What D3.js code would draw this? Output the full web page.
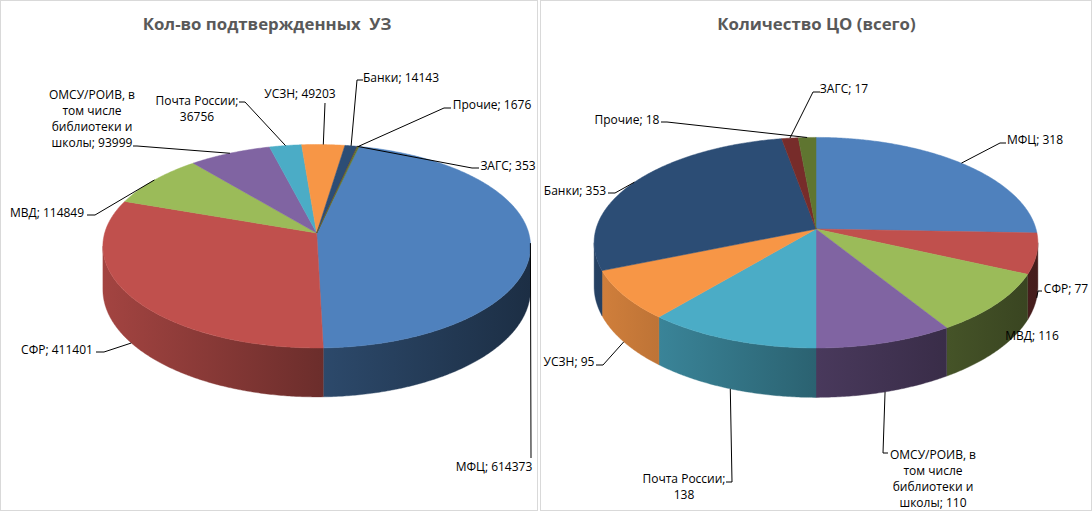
<!DOCTYPE html>
<html><head><meta charset="utf-8">
<script src="https://cdn.jsdelivr.net/npm/d3@7"></script>
<style>body{margin:0;background:#fff}svg{display:block}</style>
</head><body>
<svg id="c" width="1092" height="512"></svg>
<script>
// ---------- DATA ----------
const categories = ["МФЦ","СФР","МВД","ОМСУ/РОИВ, в том числе библиотеки и школы","Почта России","УСЗН","Банки","ЗАГС","Прочие"];
const valuesUZ = [614373,411401,114849,93999,36756,49203,14143,353,1676];
const valuesCO = [318,77,116,110,138,95,353,17,18];
const titles = ["Кол-во подтвержденных  УЗ","Количество ЦО (всего)"];
const palette = ["#4F81BD","#C0504D","#9BBB59","#8064A2","#4BACC6","#F79646","#2C4D75","#772C2A","#5F7530"];

// ---------- LAYOUT ----------
const panels = [
  {id:"a", x:0.5, w:537, title:titles[0], tx:267, values:valuesUZ, start:13,
   geo:{cx:316.7, cy:233, R:212, Ry:100, k:0.13, h:42.6},
   labels:[
    {cx:494, y:471, p:[[531,458],[531,458]]},
    {cx:57,  y:354, p:[[96,352],[104,352]]},
    {cx:47,  y:217, p:[[87,215],[95,215]]},
    {cx:92,  y:99,  words:[2,2,2,2], p:[[133,146],[137,146]]},
    {cx:197, y:105, words:[2,1], p:[[239,102],[245,102]]},
    {cx:300, y:98,  p:[[325,103],[325,103]]},
    {cx:401, y:82,  p:[[363,80],[357,80]]},
    {cx:508, y:170, p:[[479,168],[472,168]]},
    {cx:492, y:109, p:[[451,108],[444,108]]}
   ]},
  {id:"b", x:540.5, w:551, title:titles[1], tx:816.5, values:valuesCO, start:0,
   geo:{cx:816, cy:229, R:220, Ry:103.5, k:0.13, h:43},
   labels:[
    {cx:1035, y:144, p:[[1006,143],[1000,143]]},
    {cx:1066, y:293, p:[[1042,291],[1038,291]]},
    {cx:1032, y:340, p:null},
    {cx:933,  y:459, words:[2,2,2,2], p:[[888,453],[883,453]]},
    {cx:684,  y:483, words:[2,1], p:[[726,482],[732,482]]},
    {cx:569,  y:366, p:[[596,365],[603,365]]},
    {cx:575,  y:195, p:[[608,193],[615,193]]},
    {cx:844,  y:93,  p:[[820,92],[813,92]]},
    {cx:627,  y:124, p:[[661,122],[667,122]]}
   ]}
];

const svg = d3.select("#c");
const defs = svg.append("defs");
const shade = d3.scaleLinear().domain([-1, 0, 1]).range([0.85, 0.57, 0.36]);
const deg = Math.PI/180;

function proj(g){
  return (a, r, z) => {
    const x = r*Math.sin(a), yd = -r*Math.cos(a);
    const s = 1/(1 - g.k*yd);
    return [g.cx + g.R*x*s, g.cy + g.Ry*yd*s + g.h*z*s];
  };
}
function darker(c, f){ const r = d3.rgb(c); return d3.rgb(r.r*f, r.g*f, r.b*f).formatHex(); }
function sample(a0, a1, step){
  const n = Math.max(2, Math.ceil((a1 - a0)/step)), out = [];
  for (let j = 0; j <= n; j++) out.push(a0 + (a1 - a0)*j/n);
  return out;
}

panels.forEach(P => {
  svg.append("rect").attr("x", P.x).attr("y", 0.5).attr("width", P.w).attr("height", 510)
     .attr("fill", "#fff").attr("stroke", "#d9d9d9");
  svg.append("text").attr("x", P.tx).attr("y", 30).attr("text-anchor", "middle")
     .attr("font-family", "'Open Sans',sans-serif")
     .attr("font-weight", "bold").attr("font-size", 16.8).attr("fill", "#595959")
     .style("white-space", "pre").text(P.title);

  const g = P.geo, pj = proj(g);
  const pie = d3.pie().sort(null).value(d => d)
                .startAngle(P.start*deg).endAngle(P.start*deg + 2*Math.PI);
  const arcs = pie(P.values);
  const step = 0.5*deg;

  // gradients for sides
  arcs.forEach((a, i) => {
    const lg = defs.append("linearGradient").attr("id", `g${P.id}${i}`)
      .attr("gradientUnits", "userSpaceOnUse")
      .attr("x1", g.cx - g.R*1.01).attr("x2", g.cx + g.R*1.01).attr("y1", 0).attr("y2", 0);
    [0, 0.5, 1].forEach(o => lg.append("stop").attr("offset", o)
      .attr("stop-color", darker(palette[i], shade(o*2 - 1))));
  });

  // visible side range
  const tMin = Math.acos(-g.k), tMax = 2*Math.PI - tMin;
  const sides = [];
  arcs.forEach((a, i) => {
    [0, 2*Math.PI].forEach(off => {
      const lo = Math.max(a.startAngle, tMin + off), hi = Math.min(a.endAngle, tMax + off);
      if (hi > lo) sides.push({i, lo, hi});
    });
  });
  svg.append("g").selectAll("path").data(sides).join("path")
    .attr("d", s => {
      const ang = sample(s.lo, s.hi, step);
      const top = ang.map(t => pj(t, 1, 0));
      const bot = ang.slice().reverse().map(t => pj(t, 1, 1));
      return "M" + top.concat(bot).map(d => d.join(",")).join("L") + "Z";
    })
    .attr("fill", s => `url(#g${P.id}${s.i})`)
    .attr("stroke", s => `url(#g${P.id}${s.i})`).attr("stroke-width", 0.4);

  // tops
  svg.append("g").selectAll("path").data(arcs).join("path")
    .attr("d", a => {
      const pts = [pj(0,0,0)].concat(sample(a.startAngle, a.endAngle, step).map(t => pj(t, 1, 0)));
      return "M" + pts.map(d => d.join(",")).join("L") + "Z";
    })
    .attr("fill", (a, i) => palette[i])
    .attr("stroke", (a, i) => palette[i]).attr("stroke-width", 0.5).attr("stroke-linejoin", "round");

  // labels + leaders
  const gl = svg.append("g");
  arcs.forEach((a, i) => {
    const L = P.labels[i];
    const mid = (a.startAngle + a.endAngle)/2;
    const yd = -Math.cos(mid);
    const end = pj(mid, 1, yd > 0.15 ? 1 : 0);
    if (L.p) {
      gl.append("polyline")
        .attr("points", [L.p[0], L.p[1], end].map(d => d.join(",")).join(" "))
        .attr("fill", "none").attr("stroke", "#000").attr("stroke-width", 1);
    }
    const full = categories[i] + "; " + P.values[i];
    let lines = [full];
    if (L.words) {
      const w = full.split(" "); lines = []; let k = 0;
      L.words.forEach(c => { lines.push(w.slice(k, k + c).join(" ")); k += c; });
    }
    const t = gl.append("text").attr("text-anchor", "middle")
      .attr("font-family", "'Open Sans',sans-serif").attr("font-size", 12).attr("fill", "#000");
    lines.forEach((ln, j) => t.append("tspan").attr("x", L.cx).attr("y", L.y + j*16).text(ln));
  });
});
</script>
</body></html>
